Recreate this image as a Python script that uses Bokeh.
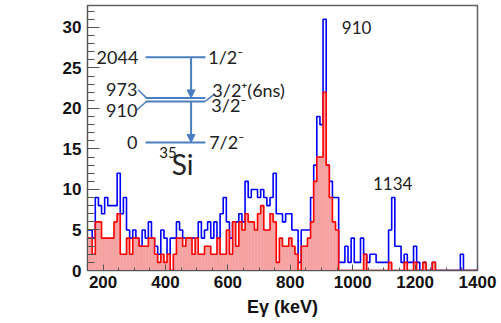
from bokeh.plotting import figure
from bokeh.models import Range1d, FixedTicker, Label, Arrow, NormalHead
from bokeh.embed import file_html
from bokeh.resources import INLINE

# ---- data: 10 keV bins, centres in keV ----
energy = list(range(150, 1401, 10))
bin_width = 10
blue_counts = [
    5, 5, 4, 9, 8, 7, 9, 8, 8, 8,        # 150-240
    12, 7, 9, 5, 4, 5, 4, 3, 5, 4,       # 250-340
    6, 4, 3, 2, 5, 4, 2, 4, 4, 6,        # 350-440
    5, 4, 4, 4, 4, 4, 6, 4, 5, 6,        # 450-540
    4, 6, 4, 7, 9, 6, 4, 6, 6, 7,        # 550-640
    6, 11, 9, 10, 10, 9, 10, 9, 8, 9,    # 650-740
    12, 7, 7, 6, 7, 7, 5, 5, 1, 5,       # 750-840
    5, 5, 9, 13, 19, 18, 31, 13, 11, 9,  # 850-940
    9, 1, 1, 3, 1, 4, 1, 1, 4, 2,        # 950-1040
    1, 2, 2, 1, 1, 1, 1, 5, 9, 3,        # 1050-1140
    3, 1, 2, 1, 1, 3, 1, 0, 1, 0,        # 1150-1240
    0, 1, 0, 0, 0, 0, 0, 0, 0, 0,        # 1250-1340
    2, 0, 0, 0, 0, 0,                    # 1350-1400
]
red_counts = [
    4, 4, 2, 6, 6, 4, 4, 4, 4, 6,
    7, 2, 2, 4, 2, 4, 4, 3, 3, 3,
    4, 4, 2, 1, 2, 1, 2, 0, 2, 4,
    4, 3, 4, 4, 2, 4, 2, 2, 3, 3,
    2, 2, 4, 2, 2, 5, 2, 6, 3, 6,
    5, 7, 6, 6, 5, 7, 8, 5, 5, 7,
    6, 1, 4, 3, 3, 4, 3, 2, 0, 3,
    3, 4, 6, 11, 14, 14, 22, 13, 9, 6,
    5, 0, 0, 0, 0, 0, 0, 0, 0, 2,
    0, 0, 0, 0, 0, 0, 0, 1, 0, 0,
    0, 0, 1, 0, 0, 1, 0, 0, 1, 0,
    0, 1, 0, 0, 0, 0, 0, 0, 0, 0,
    0, 0, 0, 0, 0, 0,
]
x_major = [200, 400, 600, 800, 1000, 1200, 1400]
y_major = [0, 5, 10, 15, 20, 25, 30]

p = figure(width=501, height=323, x_range=Range1d(150, 1400), y_range=Range1d(0, 32.7),
           output_backend="svg", toolbar_location=None,
           min_border_left=87, min_border_right=24, min_border_top=5, min_border_bottom=53)
p.grid.visible = False
p.outline_line_color = "#606060"
p.outline_line_width = 1.5
p.background_fill_color = "white"

p.xaxis.ticker = FixedTicker(ticks=x_major, minor_ticks=list(range(150, 1401, 50)))
p.yaxis.ticker = FixedTicker(ticks=y_major, minor_ticks=list(range(0, 33)))
for ax in (p.xaxis, p.yaxis):
    ax.major_tick_out = 0
    ax.minor_tick_out = 0
    ax.axis_line_color = "#555555"
    ax.major_tick_line_color = "#555555"
    ax.minor_tick_line_color = "#555555"
    ax.major_label_text_font = "Liberation Sans"
    ax.major_label_text_font_style = "bold"
    ax.major_label_text_font_size = "17px"
    ax.major_label_text_color = "#111111"
p.xaxis.major_tick_in = 6
p.xaxis.minor_tick_in = 3
p.yaxis.major_tick_in = 12
p.yaxis.minor_tick_in = 7
p.yaxis.major_label_standoff = 6
p.xaxis.major_label_standoff = 5
p.xaxis.axis_label = "Eγ (keV)"
p.xaxis.axis_label_text_font = "Liberation Sans"
p.xaxis.axis_label_text_font_style = "bold"
p.xaxis.axis_label_text_font_size = "18px"
p.xaxis.axis_label_text_color = "#111111"
p.xaxis.axis_label_standoff = 6

# histograms
lefts = [e - bin_width / 2 for e in energy]
rights = [e + bin_width / 2 for e in energy]
p.step(x=energy, y=blue_counts, mode="center", line_color="#0000ff", line_width=1.6)
p.quad(left=lefts, right=rights, bottom=0, top=red_counts,
       fill_color="#f6a2a2", fill_alpha=1.0, line_color="#f6a2a2", line_width=0.5)
p.step(x=energy, y=red_counts, mode="center", line_color="#ff0000", line_width=1.6)

# level scheme
lc = "#4a7fc1"
lx0, lx1 = 336, 528
levels_y = [26.3, 21.3, 20.85, 15.8]
p.segment(x0=[lx0] * 4, y0=levels_y, x1=[lx1] * 4, y1=levels_y, line_color=lc, line_width=2)
# connectors
p.segment(x0=[312, 308, 528], y0=[22.3, 19.8, 20.9], x1=[339, 339, 555], y1=[21.3, 20.85, 21.7],
          line_color=lc, line_width=1.5)
xa = 482
p.add_layout(Arrow(end=NormalHead(size=8, fill_color=lc, line_color=lc), x_start=xa, y_start=26.3,
                   x_end=xa, y_end=21.3, line_color=lc, line_width=2))
p.add_layout(Arrow(end=NormalHead(size=8, fill_color=lc, line_color=lc), x_start=xa, y_start=20.85,
                   x_end=xa, y_end=15.8, line_color=lc, line_width=2))

def lab(x, y, t, size="18px", align="left", base="middle", font="Lato", style="normal", color="#222222"):
    p.add_layout(Label(x=x, y=y, text=t, text_font=font, text_font_size=size, text_align=align,
                       text_baseline=base, text_color=color, text_font_style=style))

lab(313, 26.3, "2044", align="right")
lab(310, 22.3, "973", align="right")
lab(310, 19.7, "910", align="right")
lab(310, 15.8, "0", align="right")
lab(537, 26.3, "1/2⁻")
lab(550, 22.3, "3/2⁺(6ns)")
lab(547, 20.4, "3/2⁻")
lab(540, 15.8, "7/2⁻")
lab(380, 15.3, "35", size="15px", base="top")
lab(420, 13.2, "Si", size="28px")
lab(965, 30.0, "910", size="17px")
lab(1065, 10.7, "1134", size="17px")

p.add_layout(Label(x=-64, y=135, x_units="screen", y_units="screen", text="Nγ",
                   text_font="Liberation Sans", text_font_style="bold", text_font_size="18px",
                   text_baseline="middle", text_align="left", text_color="#111111"))

open("out.html", "w").write(file_html(p, INLINE))
